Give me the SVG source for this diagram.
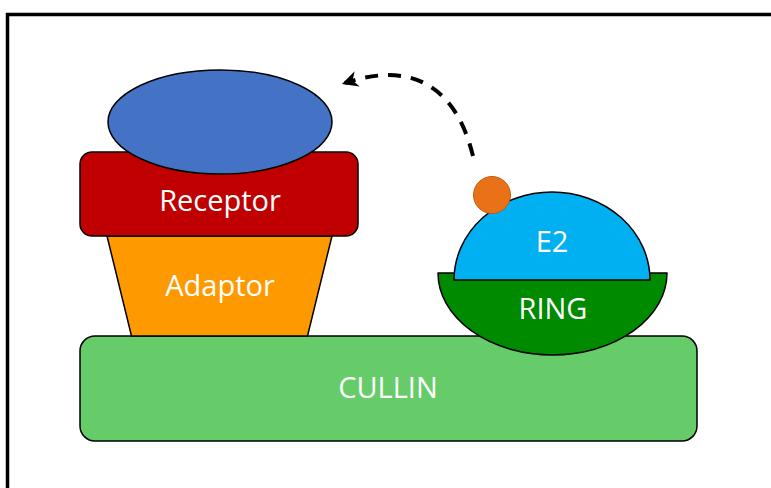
<svg xmlns="http://www.w3.org/2000/svg" width="771" height="488" viewBox="0 0 771 488">
<style>
.s{stroke:#000;stroke-width:1.5;stroke-linejoin:round}
.t{font-family:"Open Sans","Liberation Sans",sans-serif;font-size:29px;fill:#fff;text-anchor:middle}
</style>
<defs>
<marker id="ah" viewBox="0 0 10 10" refX="8" refY="5" markerWidth="4" markerHeight="4" orient="auto" markerUnits="strokeWidth">
<path d="M0,0 L10,5 L0,10 L3,5 Z" fill="#000"/>
</marker>
</defs>
<rect width="771" height="488" fill="#fff"/>
<path d="M7.5,488 V14.5 H771" fill="none" stroke="#000" stroke-width="3.5"/>
<g id="cullin">
<rect class="s" x="80" y="336" width="617" height="105" rx="15" fill="#66CC6A"/>
<text class="t" x="388" y="398">CULLIN</text>
</g>
<g id="adaptor">
<polygon class="s" points="107,236 332,236 307.5,336 131.5,336" fill="#FF9900"/>
<text class="t" x="220" y="296">Adaptor</text>
</g>
<g id="receptor">
<rect class="s" x="80" y="152" width="278" height="84" rx="12" fill="#C00000"/>
<text class="t" x="220" y="211">Receptor</text>
</g>
<g id="substrate">
<ellipse class="s" cx="220" cy="122" rx="112" ry="52" fill="#4472C4"/>
</g>
<g id="ring">
<path class="s" d="M438,273 H667 A114.5,82 0 0 1 438,273 Z" fill="#008A00"/>
<text class="t" x="553" y="319">RING</text>
</g>
<g id="e2">
<path class="s" d="M454,280 A98,88 0 0 1 650,280 Z" fill="#00B0F0"/>
<text class="t" x="552" y="252">E2</text>
</g>
<g id="ubiquitin">
<circle cx="492" cy="195" r="18.5" fill="#E97117" stroke="#C55A11" stroke-width="1"/>
</g>
<g id="connectors">
<path d="M473,156 C458,95 420,58 345,83" fill="none" stroke="#000" stroke-width="4" stroke-dasharray="13,10" marker-end="url(#ah)"/>
</g>
</svg>
